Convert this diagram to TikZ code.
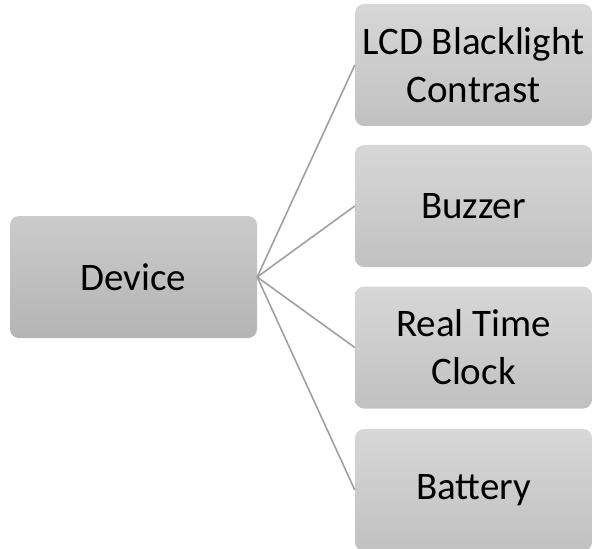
\documentclass[tikz,border=0pt]{standalone}
\usepackage{fontspec}
\setmainfont{Carlito}
\begin{document}
\begin{tikzpicture}[x=1pt,y=-1pt]
\definecolor{dtop}{RGB}{203,203,203}
\definecolor{dbot}{RGB}{180,180,180}
\definecolor{rtop}{RGB}{215,215,215}
\definecolor{rbot}{RGB}{193,193,193}
\definecolor{linec}{RGB}{160,160,160}
\tikzset{
  lbl/.style={font=\fontsize{39}{48}\selectfont, align=center, text=black,
    rounded corners=9pt, inner sep=0pt},
  devbox/.style={lbl, top color=dtop, bottom color=dbot,
    minimum width=247pt, minimum height=122pt},
  itembox/.style={lbl, top color=rtop, bottom color=rbot,
    minimum width=237pt, minimum height=122pt},
  conn/.style={draw=linec, line width=1.6pt}}
\useasboundingbox (0,0) rectangle (593,548);
\node[devbox] (dev) at (133.5,277) {Device};
\node[itembox] (n1) at (473.5,65) {LCD Blacklight\\Contrast};
\node[itembox] (n2) at (473.5,206) {Buzzer};
\node[itembox] (n3) at (473.5,347.5) {Real Time\\Clock};
\node[itembox] (n4) at (473.5,490) {Battery};
\draw[conn] (dev.east) -- (n1.west);
\draw[conn] (dev.east) -- (n2.west);
\draw[conn] (dev.east) -- (n3.west);
\draw[conn] (dev.east) -- (n4.west);
\end{tikzpicture}
\end{document}
